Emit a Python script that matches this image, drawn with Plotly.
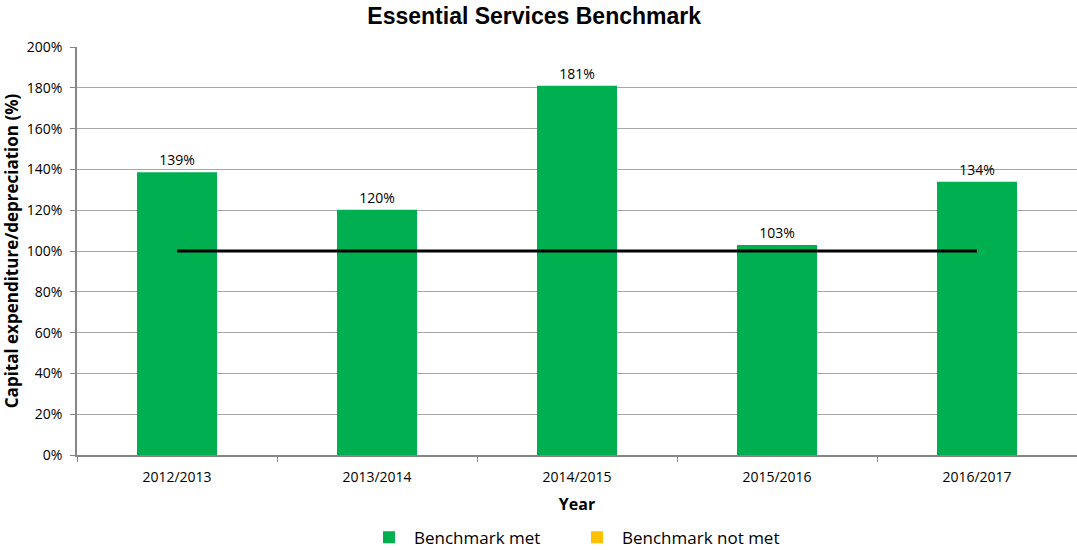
import plotly.graph_objects as go

years = ["2012/2013", "2013/2014", "2014/2015", "2015/2016", "2016/2017"]
met_values = [138.6, 120.2, 181.0, 103.0, 133.9]
label_texts = ["139%", "120%", "181%", "103%", "134%"]
benchmark = [100, 100, 100, 100, 100]
y_ticks = [0, 20, 40, 60, 80, 100, 120, 140, 160, 180, 200]
y_tick_labels = [f"{v}%" for v in y_ticks]

GREEN = "#00B050"
YELLOW = "#FFC000"
FONT = "Open Sans"

fig = go.Figure()
fig.add_trace(go.Bar(
    x=years, y=met_values, name="Benchmark met",
    marker=dict(color=GREEN, line=dict(width=0)),
    width=0.4, text=label_texts, textposition="outside",
    textfont=dict(family=FONT, size=14, color="#000000"),
    cliponaxis=False,
))
fig.add_trace(go.Bar(
    x=years, y=[None] * len(years), name="Benchmark not met",
    marker=dict(color=YELLOW, line=dict(width=0)), width=0.4,
))
fig.add_trace(go.Scatter(
    x=years, y=benchmark, mode="lines", showlegend=False,
    line=dict(color="#000000", width=3), hoverinfo="skip",
))

fig.update_layout(
    width=1077, height=550,
    margin=dict(l=77, r=0, t=47, b=95, autoexpand=False),
    paper_bgcolor="white", plot_bgcolor="white",
    barmode="overlay",
    title=dict(text="<b>Essential Services Benchmark</b>", x=0.496, xanchor="center",
               y=0.985, yanchor="top",
               font=dict(family="Liberation Sans", size=23, color="#000000")),
    font=dict(family=FONT, size=14, color="#000000"),
    legend=dict(orientation="h", x=0.495, xanchor="center", y=-0.203, yanchor="middle",
                font=dict(family=FONT, size=17), traceorder="normal",
                itemwidth=40, tracegroupgap=0,
                entrywidth=153, entrywidthmode="pixels"),
    xaxis=dict(
        title=dict(text="<b>Year</b>", font=dict(family=FONT, size=16), standoff=14),
        showline=True, linecolor="#868686", linewidth=1.5,
        ticks="outside", ticklen=5, tickcolor="#868686",
        tickson="boundaries", showgrid=False, automargin=False,
        ticklabelstandoff=8,
        tickfont=dict(family=FONT, size=14),
    ),
    yaxis=dict(
        title=dict(text="<b>Capital expenditure/depreciation (%)</b>",
                   font=dict(family=FONT, size=17), standoff=8),
        range=[0, 200], tickvals=y_ticks, ticktext=y_tick_labels,
        showline=True, linecolor="#868686", linewidth=1.5,
        ticks="outside", ticklen=5, tickcolor="#868686",
        showgrid=True, gridcolor="#a6a6a6", gridwidth=1, automargin=False,
        ticklabelstandoff=5,
        tickfont=dict(family=FONT, size=14), zeroline=False,
    ),
)

fig.write_html("out.html", config={"displayModeBar": False},
               post_script="document.body.style.margin='0';")
